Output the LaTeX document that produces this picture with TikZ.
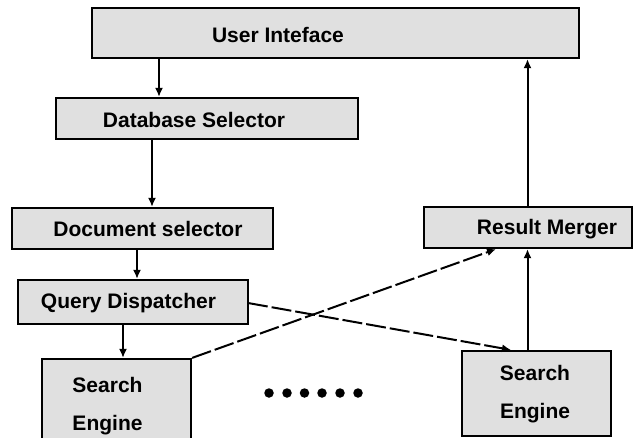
\documentclass[tikz,border=0pt]{standalone}
\usepackage{fontspec}
\setmainfont{Liberation Sans}
\usetikzlibrary{arrows.meta}
\begin{document}
\begin{tikzpicture}[x=1pt,y=-1pt,
  box/.style={draw=black, line width=2.2pt, fill=black!12, inner sep=0pt},
  lbl/.style={font=\fontsize{21}{38}\selectfont\bfseries, align=center, inner sep=0pt},
  arr/.style={line width=2pt, -{Latex[length=9pt,width=8pt]}},
  darr/.style={arr, dash pattern=on 20pt off 4pt},
  dot/.style={circle, fill=black, inner sep=0pt, minimum size=9.5pt}]
\useasboundingbox (0,0) rectangle (636,438);

% boxes of the pipeline
\node[box, minimum width=487, minimum height=50,
  label={[lbl, xshift=-57.5, yshift=-2]center:User Inteface}] (ui) at (335.5,33) {};
\node[box, minimum width=302, minimum height=41,
  label={[lbl, xshift=-13, yshift=-1]center:Database Selector}] (db) at (207,118.5) {};
\node[box, minimum width=261, minimum height=41,
  label={[lbl, xshift=5.5, yshift=0]center:Document selector}] (doc) at (142.5,228.5) {};
\node[box, minimum width=230, minimum height=44,
  label={[lbl, xshift=-4.5, yshift=-1]center:Query Dispatcher}] (qd) at (133,302) {};
\node[box, minimum width=208, minimum height=41,
  label={[lbl, xshift=19, yshift=-1.5]center:Result Merger}] (rm) at (528,227.5) {};
\node[box, minimum width=149, minimum height=89,
  label={[lbl, xshift=-9, yshift=-2.5]center:Search\\Engine}] (se1) at (116.5,403.5) {};
\node[box, minimum width=149, minimum height=85,
  label={[lbl, xshift=-1.5, yshift=-0.5]center:Search\\Engine}] (se2) at (536.5,393.5) {};

% columns of the vertical connectors
\coordinate (c1) at (159,0);
\coordinate (c2) at (152,0);
\coordinate (c3) at (137,0);
\coordinate (c4) at (123,0);
\coordinate (c5) at (527.5,0);
\coordinate (c6) at (496,0);
\coordinate (c7) at (511,0);
\coordinate (qdout) at (248,303);

% downward flow
\draw[arr] (c1 |- ui.south) -- (c1 |- db.north);
\draw[arr] (c2 |- db.south) -- (c2 |- doc.north);
\draw[arr] (c3 |- doc.south) -- (c3 |- qd.north);
\draw[arr] (c4 |- qd.south) -- (c4 |- se1.north);

% upward flow
\draw[arr] (c5 |- se2.north) -- (c5 |- rm.south);
\draw[arr] (c5 |- rm.north) -- (c5 |- ui.south);

% crossing dashed connectors
\draw[darr] (se1.north east) -- (c6 |- rm.south);
\draw[darr] (qdout) -- (c7 |- se2.north);

% ellipsis between the two engines
\foreach \x [count=\i] in {269,287,304.5,322,340,358}
  \node[dot] (d\i) at (\x,393) {};
\end{tikzpicture}
\end{document}
